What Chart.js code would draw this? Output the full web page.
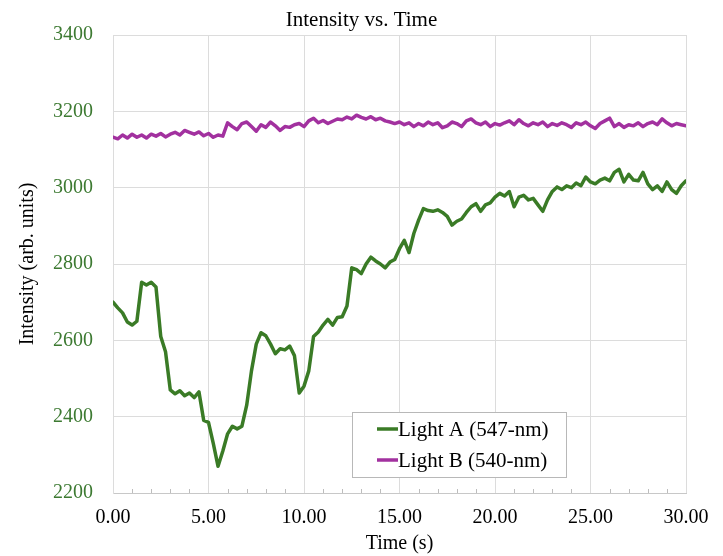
<!DOCTYPE html>
<html>
<head>
<meta charset="utf-8">
<script src="https://cdn.jsdelivr.net/npm/chart.js@4/dist/chart.umd.min.js"></script>
<style>
html,body{margin:0;padding:0;background:#fff;}
#wrap{width:723px;height:556px;position:relative;}
</style>
</head>
<body>
<div id="wrap"><canvas id="c" width="723" height="556"></canvas></div>
<script>
const chartTitle = "Intensity vs. Time";
const xAxisTitle = "Time (s)";
const yAxisTitle = "Intensity (arb. units)";
const seriesNames = ["Light A (547-nm)", "Light B (540-nm)"];

const times = [
 0,0.25,0.5,0.75,1,1.25,1.5,1.75,2,2.25,2.5,2.75,3,3.25,3.5,3.75,4,4.25,4.5,4.75,
 5,5.25,5.5,5.75,6,6.25,6.5,6.75,7,7.25,7.5,7.75,8,8.25,8.5,8.75,9,9.25,9.5,9.75,
 10,10.25,10.5,10.75,11,11.25,11.5,11.75,12,12.25,12.5,12.75,13,13.25,13.5,13.75,14,14.25,14.5,14.75,
 15,15.25,15.5,15.75,16,16.25,16.5,16.75,17,17.25,17.5,17.75,18,18.25,18.5,18.75,19,19.25,19.5,19.75,
 20,20.25,20.5,20.75,21,21.25,21.5,21.75,22,22.25,22.5,22.75,23,23.25,23.5,23.75,24,24.25,24.5,24.75,
 25,25.25,25.5,25.75,26,26.25,26.5,26.75,27,27.25,27.5,27.75,28,28.25,28.5,28.75,29,29.25,29.5,29.75,30
];

const lightA = [
 2700,2685,2672,2648,2640,2650,2752,2745,2752,2740,2610,2570,2470,2460,2468,2455,2462,2450,2465,2390,
 2385,2330,2270,2310,2355,2375,2368,2375,2430,2520,2590,2620,2612,2590,2565,2578,2575,2585,2560,2462,
 2480,2520,2610,2622,2640,2655,2640,2660,2662,2690,2790,2785,2775,2800,2818,2808,2800,2790,2805,2812,
 2840,2862,2830,2880,2915,2945,2940,2938,2942,2935,2925,2902,2912,2918,2935,2950,2958,2938,2955,2960,
 2975,2985,2978,2990,2950,2975,2980,2968,2972,2955,2938,2968,2990,3002,2995,3005,3000,3012,3005,3028,
 3015,3010,3020,3025,3018,3040,3048,3015,3035,3020,3018,3040,3010,2995,3005,2990,3015,2995,2985,3005,3018
];

const lightB = [
 3132,3128,3138,3130,3140,3132,3138,3130,3140,3135,3142,3133,3140,3145,3138,3150,3145,3140,3146,3136,
 3142,3132,3138,3135,3170,3160,3152,3168,3172,3160,3148,3165,3158,3172,3162,3150,3160,3158,3165,3168,
 3160,3175,3182,3170,3176,3168,3174,3180,3178,3185,3180,3190,3184,3180,3186,3178,3182,3175,3172,3168,
 3172,3165,3170,3160,3168,3162,3172,3165,3170,3157,3162,3172,3168,3160,3175,3180,3170,3165,3172,3160,
 3168,3164,3170,3175,3165,3178,3168,3162,3170,3165,3172,3160,3168,3163,3170,3165,3158,3170,3165,3172,
 3162,3155,3168,3175,3182,3160,3168,3158,3165,3162,3170,3160,3168,3172,3165,3180,3170,3162,3168,3165,3162
];

const xTicks = [0,5,10,15,20,25,30];
const yTicks = [2200,2400,2600,2800,3000,3200,3400];

const greenColor = "#3a7b26";
const purpleColor = "#a2319f";
const serif = "'Liberation Serif', 'DejaVu Serif', serif";

const minorTicks = {
  id: 'minorTicks',
  afterDatasetsDraw(chart) {
    const xs = chart.scales.x, ca = chart.chartArea, ctx = chart.ctx;
    ctx.save();
    ctx.strokeStyle = '#bdbdbd';
    ctx.lineWidth = 1;
    for (let v = xs.min; v <= xs.max; v += 1) {
      if (v % 5 === 0) continue;
      const px = Math.round(xs.getPixelForValue(v)) + 0.5;
      ctx.beginPath();
      ctx.moveTo(px, ca.bottom);
      ctx.lineTo(px, ca.bottom - 4);
      ctx.stroke();
    }
    ctx.restore();
  }
};

const boxLegend = {
  id: 'boxLegend',
  afterDraw(chart) {
    const ca = chart.chartArea, ctx = chart.ctx;
    const left = ca.left + 239, top = ca.top + 377, w = 214, h = 65;
    ctx.save();
    ctx.fillStyle = '#ffffff';
    ctx.fillRect(left, top, w, h);
    ctx.strokeStyle = '#b8b8b8';
    ctx.lineWidth = 1;
    ctx.strokeRect(left + 0.5, top + 0.5, w, h);
    ctx.font = "21px " + serif;
    ctx.textBaseline = 'middle';
    chart.data.datasets.forEach((ds, i) => {
      const y = top + 17 + i * 31;
      ctx.strokeStyle = ds.borderColor;
      ctx.lineWidth = 3.5;
      ctx.beginPath();
      ctx.moveTo(left + 25, y);
      ctx.lineTo(left + 46, y);
      ctx.stroke();
      ctx.fillStyle = '#000';
      ctx.fillText(ds.label, left + 46, y + 1);
    });
    ctx.restore();
  }
};

new Chart(document.getElementById('c'), {
  type: 'line',
  data: {
    datasets: [
      { label: seriesNames[0], data: times.map((t, i) => ({x: t, y: lightA[i]})),
        borderColor: greenColor, backgroundColor: greenColor, borderWidth: 3.5,
        pointRadius: 0, tension: 0, borderJoinStyle: 'round', borderCapStyle: 'round' },
      { label: seriesNames[1], data: times.map((t, i) => ({x: t, y: lightB[i]})),
        borderColor: purpleColor, backgroundColor: purpleColor, borderWidth: 3.5,
        pointRadius: 0, tension: 0, borderJoinStyle: 'round', borderCapStyle: 'round' }
    ]
  },
  options: {
    responsive: false,
    animation: false,
    devicePixelRatio: 1,
    layout: { padding: { left: 0, right: 0, top: 0, bottom: 0 } },
    plugins: {
      legend: { display: false },
      tooltip: { enabled: false },
      title: {
        display: true, text: chartTitle, color: '#000',
        font: { family: serif, size: 21, weight: 'normal' },
        padding: { top: 8, bottom: 1.8 }
      }
    },
    scales: {
      x: {
        type: 'linear', min: 0, max: 30,
        afterBuildTicks(s) { s.ticks = xTicks.map(v => ({value: v})); },
        afterFit(s) { s.height = 63; },
        grid: { color: '#dcdcdc', lineWidth: 1, drawTicks: false },
        border: { color: '#c8c8c8' },
        ticks: { color: '#000', padding: 13, maxRotation: 0,
          font: { family: serif, size: 20 },
          callback: v => Number(v).toFixed(2) },
        title: { display: true, text: xAxisTitle, color: '#000',
          font: { family: serif, size: 20 }, padding: { top: 2, bottom: 0 } }
      },
      y: {
        type: 'linear', min: 2200, max: 3400,
        afterBuildTicks(s) { s.ticks = yTicks.map(v => ({value: v})); },
        afterFit(s) { s.width = 113; },
        grid: { color: '#dcdcdc', lineWidth: 1, drawTicks: false },
        border: { color: '#dcdcdc' },
        ticks: { color: '#3d7a32', padding: 20,
          font: { family: serif, size: 20 },
          callback: v => String(v) },
        title: { display: true, text: yAxisTitle, color: '#000',
          font: { family: serif, size: 20 }, padding: { top: 16, bottom: 4 } }
      },
      yRightSpace: {
        type: 'linear', position: 'right', min: 2200, max: 3400,
        afterFit(s) { s.width = 37; },
        grid: { display: false, drawOnChartArea: false, drawTicks: false },
        border: { display: false },
        ticks: { display: false }
      }
    }
  },
  plugins: [minorTicks, boxLegend]
});
</script>
</body>
</html>
